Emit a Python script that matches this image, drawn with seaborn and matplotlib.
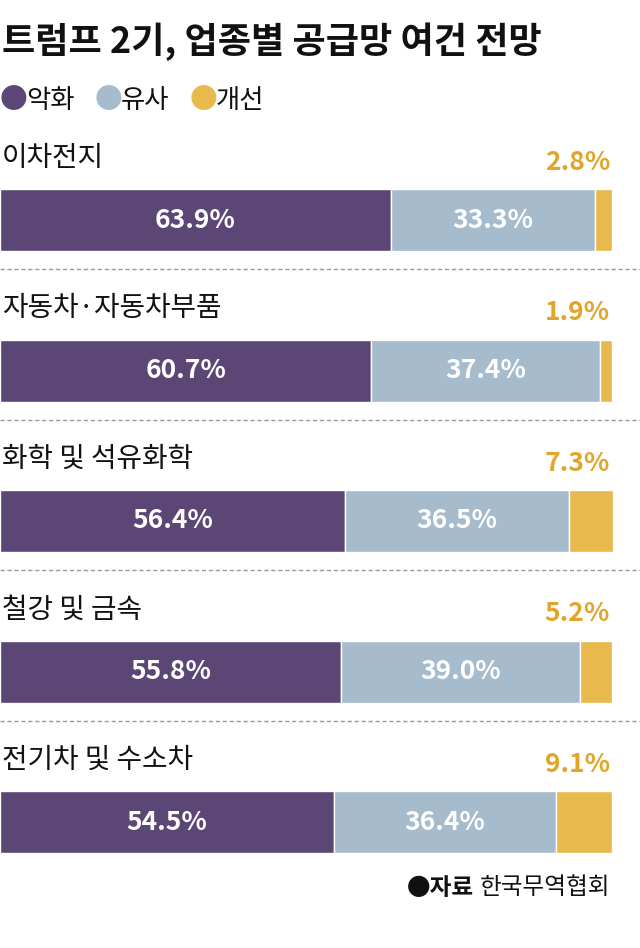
import matplotlib
matplotlib.use("Agg")
import matplotlib.pyplot as plt
import seaborn as sns
import numpy as np
import pandas as pd

categories = ["이차전지", "자동차·자동차부품", "화학 및 석유화학", "철강 및 금속", "전기차 및 수소차"]
worse = [63.9, 60.7, 56.4, 55.8, 54.5]
similar = [33.3, 37.4, 36.5, 39.0, 36.4]
better = [2.8, 1.9, 7.3, 5.2, 9.1]
legend_labels = ["악화", "유사", "개선"]
colors = ["#5c4675", "#a6bbcb", "#e8b94c"]
title = "트럼프 2기, 업종별 공급망 여건 전망"
source_bold = "●자료"
source_text = "한국무역협회"

sns.set_theme(style="white")
plt.rcParams['font.family'] = ['Noto Sans CJK KR', 'DejaVu Sans']

fig = plt.figure(figsize=(6.4, 9.48), dpi=100)
ax = fig.add_axes([0, 0, 1, 1])
ax.set_xlim(0, 100 * 640 / 612)
ax.set_ylim(948, 0)
ax.axis("off")

df = pd.DataFrame({"cat": categories, "worse": worse, "similar": similar, "better": better})
ys = 220 + 150.5 * np.arange(len(df))
h = 62
ax.barh(ys, df["worse"], height=h, color=colors[0])
ax.barh(ys, df["similar"], left=df["worse"], height=h, color=colors[1])
ax.barh(ys, df["better"], left=df["worse"] + df["similar"], height=h, color=colors[2])

for i, r in df.iterrows():
    y = ys[i]
    ax.text(r["worse"] / 2, y, f"{r['worse']:.1f}%", color="white", fontsize=19,
            fontweight="bold", ha="center", va="center")
    ax.text(r["worse"] + r["similar"] / 2, y, f"{r['similar']:.1f}%", color="white", fontsize=19,
            fontweight="bold", ha="center", va="center")
    ax.text(99.7, y - 58, f"{r['better']:.1f}%", color="#e0a52a", fontsize=19,
            fontweight="bold", ha="right", va="center")
    ax.text(0.3, y - 62, r["cat"], color="#111111", fontsize=20, ha="left", va="center")
    if i < len(df) - 1:
        ax.axhline(y + 49, color="#999999", lw=1, ls=(0, (3, 2)))

ax.text(0.3, 42, title, fontsize=26, fontweight="bold", ha="left", va="center", color="#111111")
x = 0.0
for lab, c in zip(legend_labels, colors):
    ax.text(x, 100, "●", color=c, fontsize=20, ha="left", va="center")
    ax.text(x + 4.3, 100, lab, color="#111111", fontsize=19, ha="left", va="center")
    x += 15.5

t = ax.text(99.7, 888, source_text, fontsize=17, ha="right", va="center", color="#111111")
fig.canvas.draw()
bb = t.get_window_extent()
xd = ax.transData.inverted().transform((bb.x0 - 6, 0))[0]
ax.text(xd, 888, source_bold, fontsize=17, fontweight="bold", ha="right", va="center", color="#111111")

fig.savefig("out.png", dpi=100)
